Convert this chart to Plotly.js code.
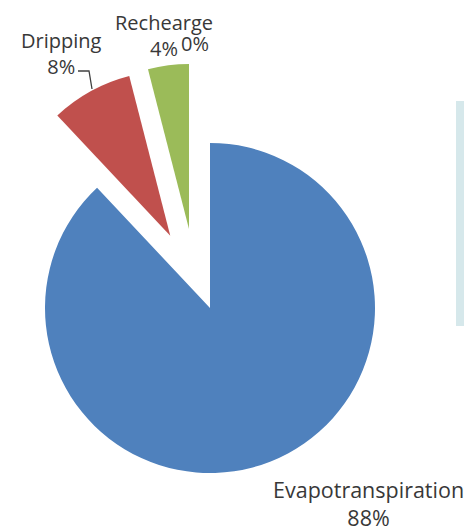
<!DOCTYPE html>
<html>
<head>
<meta charset="utf-8">
<script src="https://cdn.plot.ly/plotly-3.0.1.min.js"></script>
<style>
  html, body { margin: 0; padding: 0; overflow: hidden; background: #ffffff; width: 464px; height: 531px; }
  #chart { position: absolute; left: -40px; top: 0px; width: 540px; height: 560px; }
</style>
</head>
<body>
<div id="chart"></div>
<script>
// ---- data ----
const categories = ['Evapotranspiration', 'Dripping', 'Rechearge'];
const values = [88, 8, 4];
const percentLabels = ['88%', '8%', '4%'];
const zeroCategoryLabel = '0%';
const colors = ['#4f81bd', '#c0504d', '#9bbb59'];

// ---- layout helpers (window pixel -> paper) ----
const W = 540, H = 560, OX = 40;
const px = X => (X + OX) / W;
const py = Y => 1 - Y / H;

const clear = 'rgba(0,0,0,0)';
const family = '"Open Sans", "Liberation Sans", sans-serif';
const fontTop = { family: family, size: 20, color: '#383838' };
const fontBottom = { family: family, size: 21.5, color: '#383838' };

// main pie (Evapotranspiration + exploded Dripping)
const traceMain = {
  type: 'pie',
  labels: categories,
  values: values,
  sort: false,
  direction: 'clockwise',
  rotation: 0,
  pull: [0, 0.5, 0],
  marker: { colors: [colors[0], colors[1], clear], line: { width: 0 } },
  textinfo: 'none',
  hoverinfo: 'none',
  showlegend: false,
  domain: { x: [px(-37.5), px(457.5)], y: [py(555.5), py(60.5)] }
};
// exploded Rechearge slice
const traceRech = {
  type: 'pie',
  labels: categories,
  values: values,
  sort: false,
  direction: 'clockwise',
  rotation: 0,
  marker: { colors: [clear, clear, colors[2]], line: { width: 0 } },
  textinfo: 'none',
  hoverinfo: 'none',
  showlegend: false,
  domain: { x: [px(189 - 165), px(189 + 165)], y: [py(229 + 165), py(229 - 165)] }
};

function ann(text, X, Y, font) {
  return { text: text, x: px(X), y: py(Y), xref: 'paper', yref: 'paper',
           xanchor: 'center', yanchor: 'middle', showarrow: false, font: font };
}

const annotations = [
  ann(categories[0] + '<br>' + percentLabels[0], 368, 503, fontBottom),
  ann(categories[1] + '<br>' + percentLabels[1], 61, 53, fontTop),
  ann(categories[2] + '<br>' + percentLabels[2], 164, 35, fontTop),
  ann(zeroCategoryLabel, 195, 44, fontTop)
];

const shapes = [
  { type: 'rect', xref: 'paper', yref: 'paper', x0: px(456), x1: 1, y0: py(326), y1: py(101),
    fillcolor: '#d6e8eb', line: { width: 0 }, layer: 'below' },
  { type: 'path', xref: 'paper', yref: 'paper',
    path: `M ${px(78)} ${py(71)} L ${px(89)} ${py(71)} L ${px(92)} ${py(89)}`,
    line: { color: '#404040', width: 1.3 } }
];

const layout = {
  width: W, height: H,
  margin: { l: 0, r: 0, t: 0, b: 0 },
  paper_bgcolor: '#ffffff',
  showlegend: false,
  annotations: annotations,
  shapes: shapes
};

Plotly.newPlot('chart', [traceMain, traceRech], layout, { staticPlot: true, displayModeBar: false });
</script>
</body>
</html>
